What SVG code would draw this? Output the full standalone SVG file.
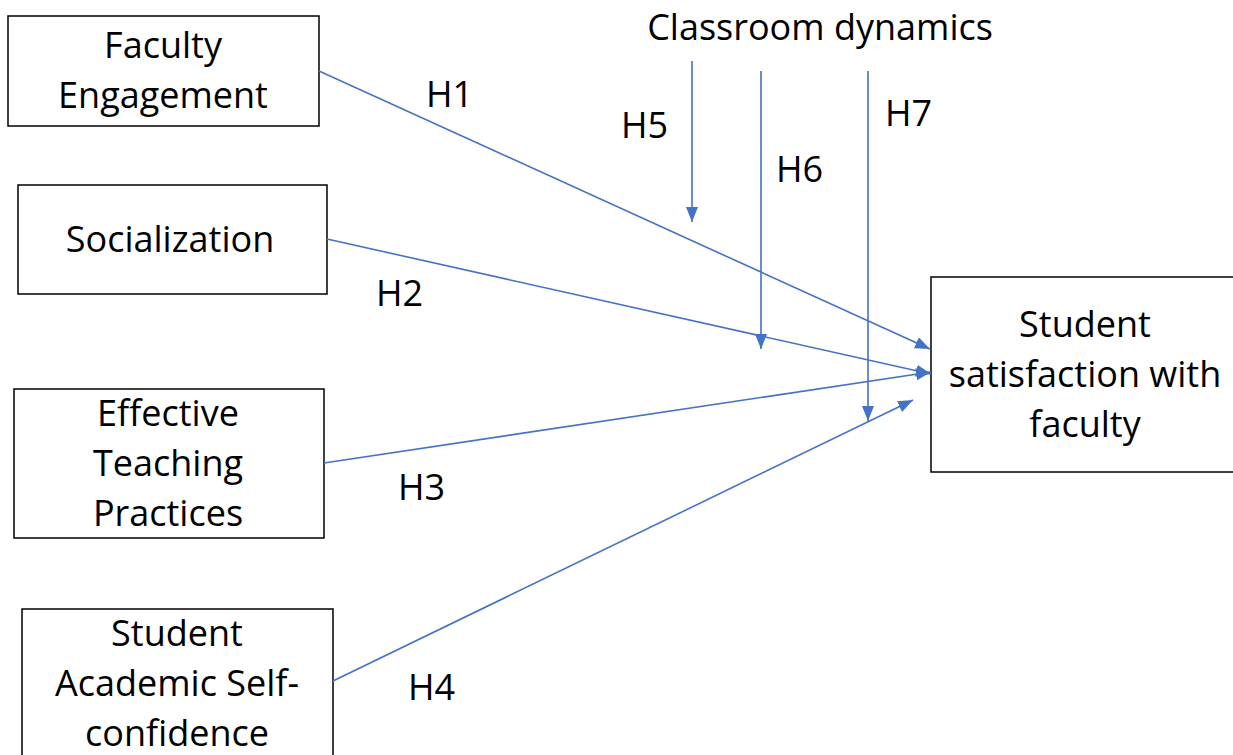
<svg xmlns="http://www.w3.org/2000/svg" width="1233" height="755" viewBox="0 0 1233 755">
<style>
.box{fill:#fff;stroke:#000;stroke-width:1.5}
.t{font-family:"Open Sans","Noto Sans",sans-serif;font-size:36px;fill:#000;text-anchor:middle}
.l{font-family:"Open Sans","Noto Sans",sans-serif;font-size:36px;fill:#000}
.c{fill:none;stroke:#4472C4;stroke-width:1.6}
</style>
<defs>
<marker id="ah" markerUnits="userSpaceOnUse" markerWidth="16" markerHeight="14" refX="15" refY="6" orient="auto">
<path d="M0,0 L15,6 L0,12 Z" fill="#4472C4"/>
</marker>
</defs>
<rect width="1233" height="755" fill="#fff"/>
<g id="n1"><rect class="box" x="8" y="16" width="311" height="110"/>
<text class="t" x="163" y="58">Faculty</text><text class="t" x="163" y="108">Engagement</text></g>
<g id="n2"><rect class="box" x="18" y="185" width="309" height="109"/>
<text class="t" x="170" y="252">Socialization</text></g>
<g id="n3"><rect class="box" x="14" y="389" width="310" height="149"/>
<text class="t" x="168" y="426">Effective</text><text class="t" x="168" y="476">Teaching</text><text class="t" x="168" y="526">Practices</text></g>
<g id="n4"><rect class="box" x="22" y="609" width="311" height="160"/>
<text class="t" x="177" y="646">Student</text><text class="t" x="177" y="696">Academic Self-</text><text class="t" x="177" y="746">confidence</text></g>
<g id="n5"><rect class="box" x="931" y="277" width="310" height="195"/>
<text class="t" x="1085" y="337">Student</text><text class="t" x="1085" y="387">satisfaction with</text><text class="t" x="1085" y="437">faculty</text></g>
<g id="mod"><text class="t" x="820" y="40">Classroom dynamics</text></g>
<g id="connectors">
<line class="c" x1="319" y1="71" x2="930" y2="349" marker-end="url(#ah)"/>
<line class="c" x1="327" y1="239" x2="931" y2="374" marker-end="url(#ah)"/>
<line class="c" x1="324" y1="463" x2="931" y2="372" marker-end="url(#ah)"/>
<line class="c" x1="333" y1="681" x2="913" y2="400" marker-end="url(#ah)"/>
<line class="c" x1="692" y1="61" x2="692" y2="222" marker-end="url(#ah)"/>
<line class="c" x1="761" y1="71" x2="761" y2="349" marker-end="url(#ah)"/>
<line class="c" x1="868" y1="71" x2="868" y2="421" marker-end="url(#ah)"/>
</g>
<g id="labels">
<text class="l" x="426" y="107">H1</text>
<text class="l" x="376" y="306">H2</text>
<text class="l" x="398" y="500">H3</text>
<text class="l" x="408" y="700">H4</text>
<text class="l" x="621" y="138">H5</text>
<text class="l" x="776" y="182">H6</text>
<text class="l" x="885" y="126">H7</text>
</g>
</svg>
